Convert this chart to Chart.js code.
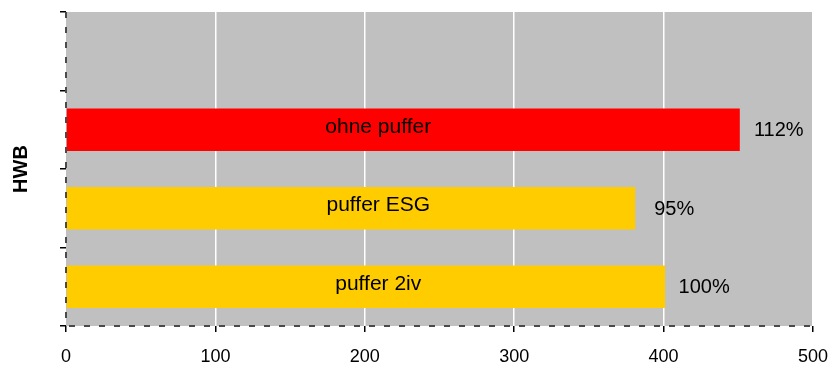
<!DOCTYPE html>
<html>
<head>
<meta charset="utf-8">
<script src="https://cdn.jsdelivr.net/npm/chart.js@4/dist/chart.umd.min.js"></script>
<style>
  body { margin: 0; background: #fff; }
  canvas { display: block; }
</style>
</head>
<body>
<canvas id="hwbChart" width="834" height="367"></canvas>
<script>
// categories top to bottom, first slot is left empty
const categories = ['', 'ohne puffer', 'puffer ESG', 'puffer 2iv'];
const hwbValues = [null, 451, 381, 401];
const barColors = ['#ffcc00', '#ff0000', '#ffcc00', '#ffcc00'];
const xMin = 0, xMax = 500, xStep = 100;
// reference case for the percentages
const baseIndex = 3;

const FONT = "'Liberation Sans', Arial, sans-serif";

// grey plot area
const plotBg = {
  id: 'plotBg',
  beforeDraw(chart) {
    const { ctx, chartArea: a } = chart;
    ctx.save();
    ctx.fillStyle = '#c0c0c0';
    ctx.fillRect(a.left, a.top, a.right - a.left, a.bottom - a.top);
    ctx.restore();
  }
};

// dashed left and bottom axis lines
const dashedAxes = {
  id: 'dashedAxes',
  afterDatasetsDraw(chart) {
    const { ctx, chartArea: a } = chart;
    ctx.save();
    ctx.strokeStyle = '#4a4a4a';
    ctx.lineWidth = 2;
    ctx.setLineDash([6, 9]);
    ctx.beginPath();
    ctx.moveTo(a.left, a.top);
    ctx.lineTo(a.left, a.bottom);
    ctx.stroke();
    ctx.beginPath();
    ctx.moveTo(a.left + 3, a.bottom);
    ctx.lineTo(a.right, a.bottom);
    ctx.stroke();
    ctx.restore();
  }
};

// category name inside bar, percentage after bar end
const barLabels = {
  id: 'barLabels',
  afterDatasetsDraw(chart) {
    const { ctx } = chart;
    const x = chart.scales.x;
    const meta = chart.getDatasetMeta(0);
    const base = hwbValues[baseIndex];
    ctx.save();
    ctx.fillStyle = '#000';
    ctx.textAlign = 'center';
    ctx.textBaseline = 'middle';
    meta.data.forEach((bar, i) => {
      const v = hwbValues[i];
      if (v == null) return;
      ctx.font = '21px ' + FONT;
      ctx.fillText(categories[i], x.getPixelForValue(209), bar.y - 3);
      ctx.font = '20px ' + FONT;
      const pct = Math.round(v / base * 100) + '%';
      ctx.fillText(pct, bar.x + 39, bar.y + 1);
    });
    ctx.restore();
  }
};

new Chart(document.getElementById('hwbChart'), {
  type: 'bar',
  data: {
    labels: categories,
    datasets: [{
      data: hwbValues,
      backgroundColor: barColors,
      borderWidth: 0,
      barPercentage: 0.54,
      categoryPercentage: 1
    }]
  },
  options: {
    indexAxis: 'y',
    responsive: false,
    animation: false,
    layout: { padding: { top: 12, right: 21, left: 9, bottom: 0 } },
    plugins: {
      legend: { display: false },
      tooltip: { enabled: false }
    },
    scales: {
      x: {
        min: xMin,
        max: xMax,
        afterFit(scale) {
          scale.height = 41;
          scale.paddingLeft = 0;
          scale.paddingRight = 0;
        },
        ticks: {
          stepSize: xStep,
          color: '#000',
          font: { family: FONT, size: 18 },
          padding: 14
        },
        grid: {
          color: ctx => ctx.tick && ctx.tick.value === xMin ? 'rgba(0,0,0,0)' : '#ffffff',
          lineWidth: 1.5,
          tickColor: '#000',
          tickLength: 6
        },
        border: { display: false }
      },
      y: {
        offset: true,
        afterFit(scale) { scale.width = 57; },
        ticks: { display: false },
        grid: {
          drawOnChartArea: false,
          offset: true,
          tickColor: '#000',
          tickLength: 6,
          lineWidth: 1.5
        },
        border: { display: false },
        title: {
          display: true,
          text: 'HWB',
          color: '#000',
          font: { family: FONT, size: 20, weight: 'bold' },
          padding: { top: 0, bottom: 27 }
        }
      }
    }
  },
  plugins: [plotBg, dashedAxes, barLabels]
});
</script>
</body>
</html>
